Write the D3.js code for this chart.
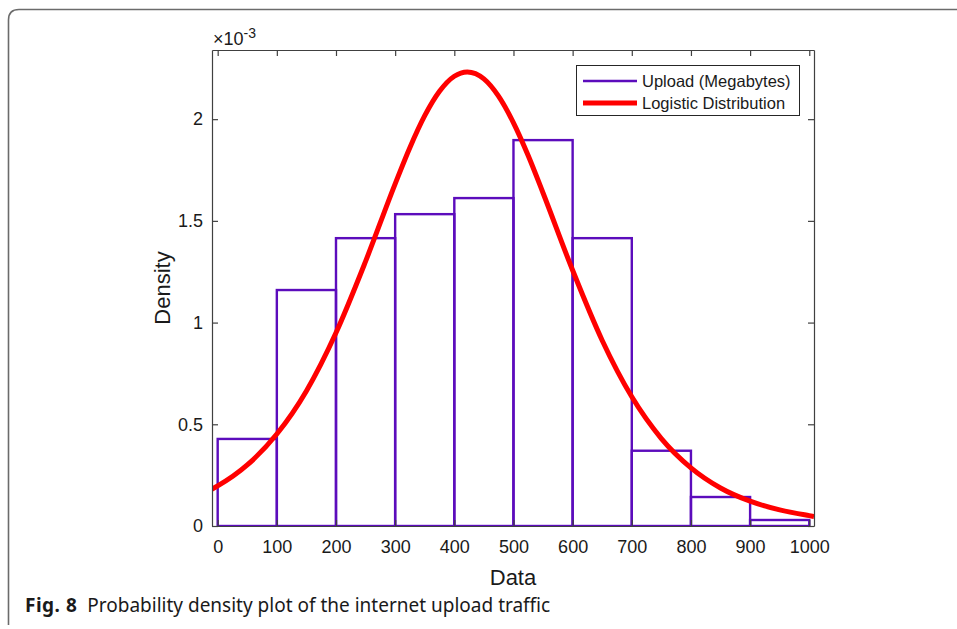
<!DOCTYPE html>
<html>
<head>
<meta charset="utf-8">
<script src="https://cdn.jsdelivr.net/npm/d3@7"></script>
<style>
  body { margin: 0; background: #fff; }
  svg { display: block; }
</style>
</head>
<body>
<svg id="chart" width="957" height="629"></svg>
<script>
// histogram bins (Megabytes) and density (x 1e-3)
const binEdges = [0, 100, 200, 300, 400, 500, 600, 700, 800, 900, 1000];
const binDensity = [0.428, 1.16, 1.415, 1.533, 1.612, 1.897, 1.415, 0.37, 0.1425, 0.0295];

// logistic fit
const curveX = [-10, 0, 50, 100, 150, 200, 250, 300, 325, 350, 375, 400, 422, 450, 475, 500, 525, 550, 600, 650, 700, 750, 800, 850, 900, 950, 1000, 1008];
const curveY = [0.181, 0.197, 0.300, 0.452, 0.664, 0.950, 1.301, 1.682, 1.861, 2.017, 2.137, 2.211, 2.232, 2.198, 2.112, 1.982, 1.820, 1.637, 1.257, 0.912, 0.635, 0.430, 0.286, 0.187, 0.122, 0.079, 0.051, 0.047];

const xTicks = [0, 100, 200, 300, 400, 500, 600, 700, 800, 900, 1000];
const yTicks = [0, 0.5, 1, 1.5, 2];

const PURPLE = "#5c0cbc";
const RED = "#ff0000";
const AXIS = "#404040";
const FONT = "'Liberation Sans', Arial, Helvetica, sans-serif";

const svg = d3.select("#chart");

// figure frame (rounded top-left corner, open on the right)
svg.append("path")
  .attr("d", "M8.5,625 Q8.5,622 8.5,620 L8.5,20 Q8.5,9.5 19,9.5 L957,9.5")
  .attr("fill", "none")
  .attr("stroke", "#6b6b6b")
  .attr("stroke-width", 1.6);

const plotLeft = 212, plotRight = 814, plotTop = 50, plotBottom = 526;

const x = d3.scaleLinear().domain([-9.6, 1008]).range([plotLeft, plotRight]);
const y = d3.scaleLinear().domain([0, 2.34]).range([plotBottom, plotTop]);

svg.append("defs").append("clipPath").attr("id", "plotclip")
  .append("rect")
  .attr("x", plotLeft).attr("y", plotTop)
  .attr("width", plotRight - plotLeft).attr("height", plotBottom - plotTop);

const plot = svg.append("g").attr("clip-path", "url(#plotclip)");

// histogram bars, outline only
plot.append("g")
  .selectAll("rect")
  .data(binDensity)
  .enter()
  .append("rect")
  .attr("x", (d, i) => x(binEdges[i]))
  .attr("width", (d, i) => x(binEdges[i + 1]) - x(binEdges[i]))
  .attr("y", d => y(d))
  .attr("height", d => y(0) - y(d))
  .attr("fill", "none")
  .attr("stroke", PURPLE)
  .attr("stroke-width", 2.4);

// logistic curve
const line = d3.line()
  .x((d, i) => x(curveX[i]))
  .y(d => y(d))
  .curve(d3.curveMonotoneX);

plot.append("path")
  .datum(curveY)
  .attr("d", line)
  .attr("fill", "none")
  .attr("stroke", RED)
  .attr("stroke-width", 5)
  .attr("stroke-linejoin", "round");

// axes, ticks pointing in
function styleAxis(g) {
  g.select(".domain").attr("stroke", AXIS).attr("stroke-width", 1.2);
  g.selectAll(".tick line").attr("stroke", AXIS).attr("stroke-width", 1.2);
  g.selectAll("text").attr("fill", "#1a1a1a").attr("font-family", FONT).attr("font-size", 18);
}

svg.append("g")
  .attr("transform", `translate(0,${plotBottom})`)
  .call(d3.axisBottom(x).tickValues(xTicks).tickSize(-6).tickSizeOuter(0).tickPadding(14).tickFormat(d3.format("d")))
  .call(styleAxis);

svg.append("g")
  .attr("transform", `translate(0,${plotTop})`)
  .call(d3.axisTop(x).tickValues(xTicks).tickSize(-6).tickSizeOuter(0).tickFormat(""))
  .call(styleAxis);

svg.append("g")
  .attr("transform", `translate(${plotLeft},0)`)
  .call(d3.axisLeft(y).tickValues(yTicks).tickSize(-6).tickSizeOuter(0).tickPadding(9).tickFormat(d => d))
  .call(styleAxis);

svg.append("g")
  .attr("transform", `translate(${plotRight},0)`)
  .call(d3.axisRight(y).tickValues(yTicks).tickSize(-6).tickSizeOuter(0).tickFormat(""))
  .call(styleAxis);

// exponent label
const expo = svg.append("text")
  .attr("x", plotLeft + 1)
  .attr("y", 45)
  .attr("font-family", FONT)
  .attr("font-size", 18)
  .attr("fill", "#1a1a1a");
expo.append("tspan").text("\u00d710");
expo.append("tspan").attr("dy", -7).attr("font-size", 14).text("-3");

// axis titles
svg.append("text")
  .attr("x", (plotLeft + plotRight) / 2)
  .attr("y", 585)
  .attr("text-anchor", "middle")
  .attr("font-family", FONT)
  .attr("font-size", 22)
  .attr("fill", "#1a1a1a")
  .text("Data");

svg.append("text")
  .attr("transform", `translate(170,${(plotTop + plotBottom) / 2}) rotate(-90)`)
  .attr("text-anchor", "middle")
  .attr("font-family", FONT)
  .attr("font-size", 22)
  .attr("fill", "#1a1a1a")
  .text("Density");

// legend
const legend = svg.append("g");
legend.append("rect")
  .attr("x", 576.5).attr("y", 65.5)
  .attr("width", 223).attr("height", 50)
  .attr("fill", "#fff")
  .attr("stroke", "#262626")
  .attr("stroke-width", 1);

const legendItems = [
  { label: "Upload (Megabytes)", color: PURPLE, width: 2.4 },
  { label: "Logistic Distribution", color: RED, width: 5 }
];

legendItems.forEach((item, i) => {
  const ly = 81 + i * 22;
  legend.append("line")
    .attr("x1", 583).attr("x2", 637)
    .attr("y1", ly).attr("y2", ly)
    .attr("stroke", item.color)
    .attr("stroke-width", item.width);
  legend.append("text")
    .attr("x", 642).attr("y", ly + 6)
    .attr("font-family", FONT)
    .attr("font-size", 16.5)
    .attr("fill", "#1a1a1a")
    .text(item.label);
});

// caption
const cap = svg.append("text")
  .attr("x", 25)
  .attr("y", 612)
  .attr("font-family", "'Noto Sans', 'Open Sans', sans-serif")
  .attr("font-size", 19)
  .attr("fill", "#1a1a1a");
cap.append("tspan").attr("font-weight", "bold").attr("letter-spacing", 0.5).text("Fig. 8");
cap.append("tspan").attr("dx", 10).text("Probability density plot of the internet upload traffic");
</script>
</body>
</html>
